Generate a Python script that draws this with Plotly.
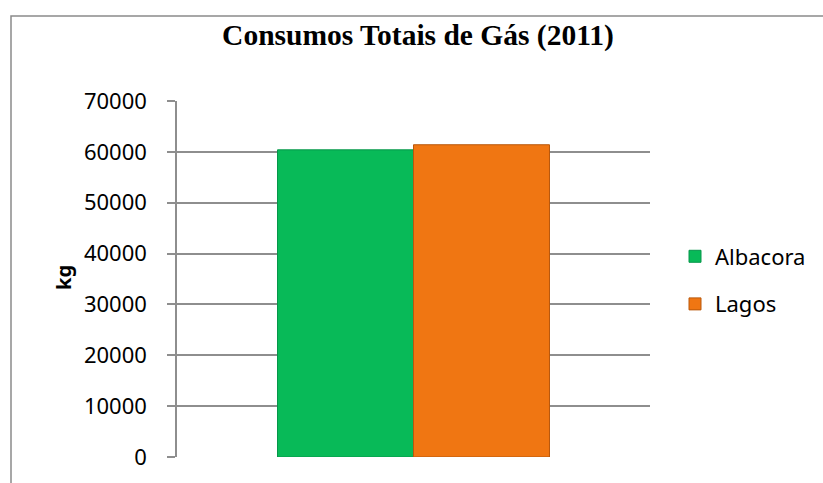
import plotly.graph_objects as go

categories = ["2011"]
series_names = ["Albacora", "Lagos"]
albacora = [60400]
lagos = [61400]
y_ticks = [0, 10000, 20000, 30000, 40000, 50000, 60000, 70000]

W, H = 823, 483
L, R, T, B = 177, 173, 101, 22
pw = W - L - R
ph = H - T - B

def px_x(p):
    return (p - L) / pw

def px_y(p):
    return (H - B - p) / ph

fig = go.Figure()
fig.add_trace(go.Bar(x=categories, y=albacora, name=series_names[0],
                     marker=dict(color="#08BA58", line=dict(color="#06964A", width=1)),
                     legendgroup="a"))
fig.add_trace(go.Bar(x=categories, y=lagos, name=series_names[1],
                     marker=dict(color="#F07612", line=dict(color="#B9580C", width=1)),
                     legendgroup="b"))

grid = "#8E8E8E"
fig.update_layout(
    width=W, height=H,
    margin=dict(l=L, r=R, t=T, b=B),
    paper_bgcolor="white", plot_bgcolor="white",
    barmode="group", bargap=0.425, bargroupgap=0,
    font=dict(family="Noto Sans, Open Sans, sans-serif", size=22, color="black"),
    title=dict(text="<b>Consumos Totais de Gás (2011)</b>",
               font=dict(family="Liberation Serif, Times New Roman, serif", size=29.5, color="black"),
               x=418 / W, xanchor="center", xref="container",
               y=1 - 35 / H, yanchor="middle", yref="container"),
    xaxis=dict(showticklabels=False, ticks="", showgrid=False, zeroline=False,
               showline=False, range=[-0.5, 0.5]),
    yaxis=dict(range=[0, 70000], tickvals=y_ticks, ticktext=[str(v) for v in y_ticks],
               showgrid=True, gridcolor=grid, gridwidth=1.5,
               ticks="outside", ticklen=8, tickcolor=grid, tickwidth=1.5,
               showline=True, linecolor=grid, linewidth=1.5,
               zeroline=False, ticklabelstandoff=16,
               tickfont=dict(size=22)),
    legend=dict(x=px_x(675), xanchor="left", y=px_y(237), yanchor="top",
                font=dict(size=22), tracegroupgap=16, bgcolor="rgba(0,0,0,0)"),
    showlegend=True,
)

fig.add_annotation(text="<b>kg</b>", x=px_x(63), y=px_y(280), xref="paper", yref="paper",
                   textangle=-90, showarrow=False, font=dict(size=20, color="black"),
                   xanchor="center", yanchor="middle")

fig.add_shape(type="rect", xref="paper", yref="paper",
              x0=px_x(11), x1=px_x(900), y0=px_y(600), y1=px_y(15),
              line=dict(color="#8A8A8A", width=1.5), fillcolor="rgba(0,0,0,0)", layer="below")

fig.write_html("out.html", config={"displayModeBar": False},
               post_script="document.body.style.margin='0';document.body.style.overflow='hidden';")
